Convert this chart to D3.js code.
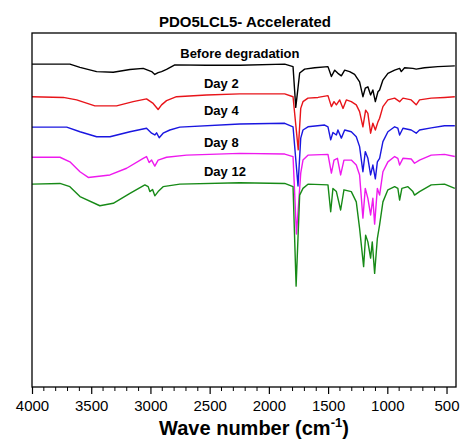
<!DOCTYPE html>
<html>
<head>
<meta charset="utf-8">
<script src="https://cdn.jsdelivr.net/npm/d3@7"></script>
<style>
  body { margin: 0; background: #fff; }
  text { font-family: Arial, "Liberation Sans", sans-serif; }
</style>
</head>
<body>
<svg id="chart" width="462" height="446"></svg>
<script>
// FTIR spectra, [wavenumber cm-1, transmittance (offset, a.u.)]
let beforeDeg = [
	[4000, 91.2], [3680, 91.2], [3595, 90.3], [3454, 89.1], [3314, 88.9], [3173, 89.7],
	[3061, 90.0], [2990, 89.1], [2963, 88.3], [2935, 88.8], [2906, 89.1], [2864, 89.7],
	[2794, 91.0], [2527, 90.9], [2246, 90.9], [1866, 91.2], [1796, 90.5], [1773, 79.0],
	[1754, 84.5], [1740, 88.7], [1698, 89.8], [1613, 90.2], [1501, 90.5], [1472, 87.7],
	[1444, 89.5], [1417, 88.6], [1388, 87.9], [1360, 89.5], [1318, 89.1], [1276, 88.3],
	[1234, 86.2], [1206, 82.0], [1186, 84.4], [1164, 84.8], [1141, 82.5], [1122, 83.9],
	[1101, 80.6], [1079, 83.4], [1065, 83.9], [1037, 86.7], [995, 88.6], [938, 89.5],
	[896, 90.0], [882, 89.1], [854, 90.2], [784, 90.0], [756, 89.8], [686, 90.2],
	[573, 90.5], [430, 90.7]
];
let day2 = [
	[4000, 82.0], [3736, 81.8], [3623, 81.1], [3469, 79.4], [3286, 79.4], [3146, 80.6],
	[3033, 81.4], [2977, 80.1], [2935, 78.4], [2906, 79.7], [2864, 80.9], [2780, 82.0],
	[2527, 82.5], [2246, 82.8], [1866, 82.8], [1796, 82.0], [1752, 67.0], [1731, 78.7],
	[1712, 80.6], [1670, 81.6], [1585, 81.8], [1501, 82.3], [1472, 79.2], [1450, 80.6],
	[1430, 79.7], [1402, 81.1], [1374, 78.7], [1346, 81.1], [1304, 80.6], [1262, 79.7],
	[1234, 77.8], [1206, 73.5], [1183, 78.2], [1164, 77.3], [1141, 71.7], [1122, 74.5],
	[1101, 72.6], [1079, 74.9], [1065, 75.9], [1037, 79.2], [995, 81.1], [938, 81.6],
	[896, 80.6], [868, 81.6], [798, 81.1], [756, 79.7], [728, 81.1], [629, 81.6],
	[517, 81.8], [430, 82.0]
];
let day4 = [
	[4000, 73.4], [3707, 73.4], [3595, 72.1], [3454, 70.7], [3342, 70.7], [3173, 72.1],
	[3033, 73.1], [2990, 71.7], [2963, 71.2], [2948, 71.8], [2926, 70.4], [2893, 71.7],
	[2836, 72.6], [2752, 73.4], [2246, 74.3], [1866, 74.5], [1796, 73.5], [1754, 56.8],
	[1731, 70.3], [1712, 72.6], [1670, 73.5], [1529, 74.0], [1501, 73.5], [1478, 69.8],
	[1459, 71.9], [1430, 71.2], [1417, 72.6], [1388, 70.3], [1360, 72.6], [1304, 72.1],
	[1262, 70.7], [1234, 67.9], [1206, 60.8], [1186, 66.5], [1164, 64.6], [1141, 59.9],
	[1122, 62.7], [1101, 58.8], [1084, 63.6], [1065, 64.6], [1037, 69.3], [995, 72.1],
	[938, 73.5], [911, 73.1], [896, 71.2], [868, 73.1], [798, 72.6], [756, 71.7],
	[728, 72.6], [629, 73.2], [517, 73.8], [430, 73.8]
];
let day8 = [
	[4000, 64.9], [3764, 64.9], [3680, 63.6], [3595, 60.8], [3525, 59.2], [3342, 59.9],
	[3201, 61.8], [3061, 64.6], [3033, 65.1], [3011, 63.4], [2990, 64.1], [2963, 62.4],
	[2935, 64.1], [2864, 64.9], [2695, 65.5], [2246, 66.0], [1866, 65.8], [1796, 65.1],
	[1767, 43.2], [1731, 60.4], [1712, 64.1], [1670, 65.5], [1501, 65.7], [1472, 60.4],
	[1450, 64.1], [1421, 64.6], [1394, 59.9], [1366, 64.1], [1304, 64.1], [1262, 62.7],
	[1234, 59.9], [1206, 47.7], [1186, 56.1], [1164, 53.3], [1141, 48.6], [1122, 53.3],
	[1107, 46.0], [1084, 56.1], [1065, 54.2], [1037, 60.8], [995, 63.6], [938, 65.1],
	[911, 64.6], [896, 62.7], [868, 64.6], [798, 64.4], [770, 63.2], [728, 64.1],
	[629, 65.5], [517, 65.7], [430, 65.1]
];
let day12 = [
	[4000, 57.3], [3764, 57.5], [3680, 56.6], [3595, 53.8], [3427, 51.2], [3314, 51.9],
	[3173, 54.7], [3047, 57.1], [3019, 56.6], [3005, 55.2], [2982, 55.8], [2963, 54.0],
	[2935, 55.2], [2893, 56.6], [2752, 57.3], [2246, 57.7], [1866, 57.5], [1796, 56.6],
	[1770, 28.5], [1740, 54.2], [1712, 56.1], [1670, 57.3], [1501, 57.1], [1478, 49.5],
	[1459, 56.1], [1430, 55.2], [1394, 50.0], [1366, 55.7], [1304, 55.2], [1262, 52.3],
	[1234, 44.8], [1200, 34.0], [1183, 42.9], [1164, 41.0], [1141, 36.4], [1127, 41.0],
	[1107, 32.1], [1084, 42.0], [1065, 45.8], [1037, 52.3], [995, 55.7], [938, 56.6],
	[911, 56.1], [896, 52.8], [877, 56.1], [826, 56.6], [784, 55.2], [770, 54.2],
	[728, 55.2], [629, 57.1], [517, 57.3], [430, 56.1]
];

let seriesNames = ["Before degradation", "Day 2", "Day 4", "Day 8", "Day 12"];
let seriesData = [beforeDeg, day2, day4, day8, day12];
let seriesColors = ["#000000", "#e8141a", "#1a16e0", "#ee1aee", "#178a17"];
// label anchor [wavenumber, value] for each trace name
let labelPos = [[2245, 93.0], [2548, 84.4], [2548, 76.8], [2548, 67.8], [2548, 59.6]];
let xTicks = [4000, 3500, 3000, 2500, 2000, 1500, 1000, 500];
let title = "PDO5LCL5- Accelerated";

let svg = d3.select("#chart");
let margin = {left: 32, top: 33, right: 6, bottom: 59};
let W = 462 - margin.left - margin.right;
let H = 446 - margin.top - margin.bottom;

let x = d3.scaleLinear().domain([4000, 420]).range([0, W]);
let y = d3.scaleLinear().domain([0, 100]).range([H, 0]);

let g = svg.append("g").attr("transform", `translate(${margin.left},${margin.top})`);

let line = d3.line().x(d => x(d[0])).y(d => y(d[1]));

g.selectAll("path.trace")
	.data(seriesData)
	.enter().append("path")
	.attr("class", "trace")
	.attr("d", line)
	.attr("fill", "none")
	.attr("stroke", (d, i) => seriesColors[i])
	.attr("stroke-width", 1.4)
	.attr("stroke-linejoin", "round");

g.selectAll("text.lbl")
	.data(seriesNames)
	.enter().append("text")
	.attr("class", "lbl")
	.attr("x", (d, i) => x(labelPos[i][0]))
	.attr("y", (d, i) => y(labelPos[i][1]))
	.attr("text-anchor", (d, i) => i == 0 ? "middle" : "start")
	.attr("font-size", 13)
	.attr("font-weight", "bold")
	.text(d => d);

// frame
g.append("rect")
	.attr("width", W).attr("height", H)
	.attr("fill", "none").attr("stroke", "#000").attr("stroke-width", 1.3);

let xAxis = g.append("g")
	.attr("transform", `translate(0,${H})`)
	.call(d3.axisBottom(x).tickValues(xTicks).tickSize(7).tickSizeOuter(0).tickPadding(6).tickFormat(d3.format("d")));
xAxis.select(".domain").remove();
xAxis.selectAll("line").attr("stroke-width", 1.2);
xAxis.selectAll("text").attr("font-size", 15).attr("fill", "#000")
	.style("font-family", "Arial, 'Liberation Sans', sans-serif");

let minor = d3.range(4000, 420, -100).filter(v => v % 500 != 0);
g.append("g")
	.attr("transform", `translate(0,${H})`)
	.selectAll("line")
	.data(minor)
	.enter().append("line")
	.attr("x1", d => x(d)).attr("x2", d => x(d))
	.attr("y1", 0).attr("y2", 4)
	.attr("stroke", "#000").attr("stroke-width", 1);

svg.append("text")
	.attr("x", 245).attr("y", 27)
	.attr("text-anchor", "middle")
	.attr("font-size", 15).attr("font-weight", "bold")
	.text(title);

let xt = svg.append("text")
	.attr("x", 254).attr("y", 435)
	.attr("text-anchor", "middle")
	.attr("font-size", 20).attr("font-weight", "bold");
xt.append("tspan").text("Wave number (cm");
xt.append("tspan").attr("font-size", 13).attr("dy", -8).text("-1");
xt.append("tspan").attr("dy", 8).text(")");
</script>
</body>
</html>
